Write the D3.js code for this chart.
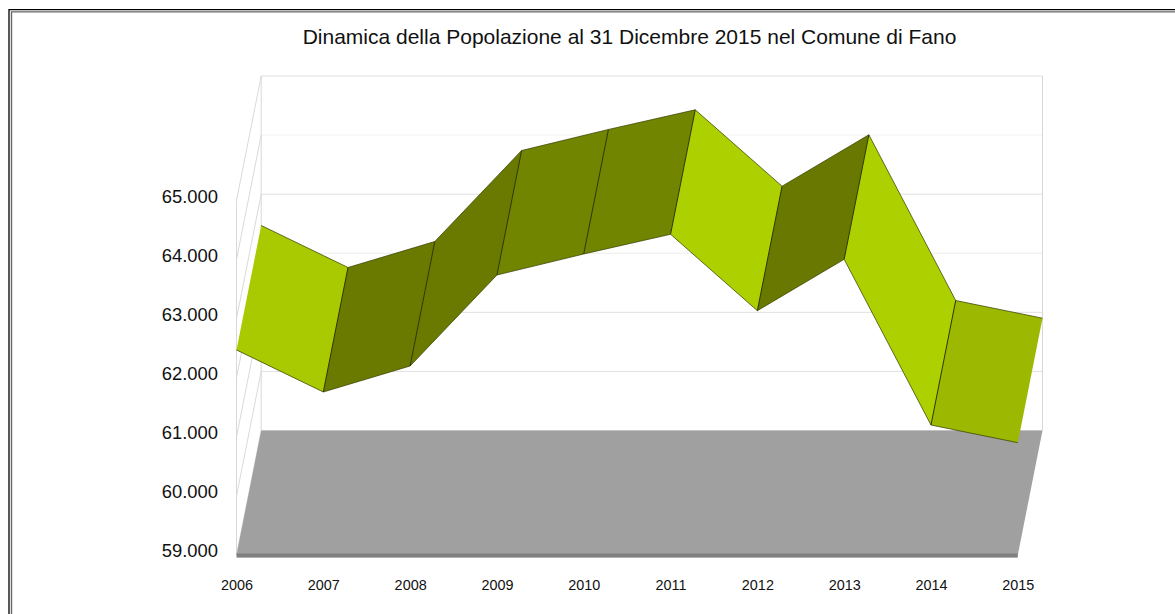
<!DOCTYPE html>
<html><head><meta charset="utf-8">
<script src="https://cdn.jsdelivr.net/npm/d3@7/dist/d3.min.js"></script>
<style>html,body{margin:0;padding:0;background:#fff}svg{display:block}text{font-family:"Liberation Sans",Arial,sans-serif;fill:#111}</style>
</head><body><svg id="c" width="1175" height="614"></svg>
<script>
const years=[2006,2007,2008,2009,2010,2011,2012,2013,2014,2015];
const population=[62470,61759,62199,63739,64095,64428,63135,64005,61200,60901];
const segmentColors=["#a9c900","#6a7a00","#6a7a00","#718500","#718500","#acd000","#697800","#acd000","#9cb800"];
const yTicks=[59000,60000,61000,62000,63000,64000,65000];
const titleText="Dinamica della Popolazione al 31 Dicembre 2015 nel Comune di Fano";
const depthX=24.7, depthY=-124.5;
const svg=d3.select("#c");
const x=d3.scalePoint().domain(years).range([236.5,1017.8]);
const y=d3.scaleLinear().domain([59000,65000]).range([555,200.5]);
const left=x(years[0]), right=x(years[years.length-1]);
const fmt=d3.formatLocale({decimal:",",thousands:".",grouping:[3],currency:["",""]}).format(",d");

// frame
const frame=svg.append("g").attr("fill","none");
frame.append("path").attr("d","M9,614V9.7H1175").attr("stroke","#000").attr("stroke-width",1.3);
frame.append("path").attr("d","M11.5,614V11.9H1175").attr("stroke","#666").attr("stroke-width",1.4);

// title
svg.append("text").attr("x",629.5).attr("y",44).attr("text-anchor","middle").attr("font-size",21).text(titleText);

// walls
const wall=svg.append("g").attr("fill","none");
yTicks.forEach(t=>{
  wall.append("line").attr("x1",left+depthX).attr("x2",right+depthX).attr("y1",y(t)+depthY).attr("y2",y(t)+depthY)
    .attr("stroke",t===64000?"#f2f2f2":t===62000?"#ececec":"#e0e0e0").attr("stroke-width",1);
  wall.append("line").attr("x1",left).attr("x2",left+depthX).attr("y1",y(t)).attr("y2",y(t)+depthY)
    .attr("stroke","#c8c8c8").attr("stroke-width",.7);
});
const vert=wall.append("g").attr("stroke","#d8d8d8").attr("stroke-width",1);
vert.append("line").attr("x1",left).attr("x2",left).attr("y1",y(65000)).attr("y2",y(59000));
vert.append("line").attr("x1",left+depthX).attr("x2",left+depthX).attr("y1",y(65000)+depthY).attr("y2",y(59000)+depthY);
vert.append("line").attr("x1",right+depthX).attr("x2",right+depthX).attr("y1",y(65000)+depthY).attr("y2",y(59000)+depthY);

// floor
const base=y(59000);
svg.append("path").attr("fill","#a0a0a0")
  .attr("d",d3.line()([[left,base],[left+depthX,base+depthY],[right+depthX,base+depthY],[right,base]])+"Z");
svg.append("rect").attr("x",left).attr("y",base-1.5).attr("width",right-left).attr("height",4.1).attr("fill","#808080");

// ribbon
const pts=years.map((yr,i)=>[x(yr),y(population[i])]);
const backPt=p=>[p[0]+depthX,p[1]+depthY];
const ribbon=svg.append("g");
ribbon.selectAll("path.face").data(segmentColors).join("path").attr("class","face")
  .attr("fill",d=>d)
  .attr("d",(d,i)=>d3.line()([pts[i],pts[i+1],backPt(pts[i+1]),backPt(pts[i])])+"Z");
// long edges (thin)
ribbon.selectAll("path.edge").data(segmentColors).join("path").attr("class","edge")
  .attr("fill","none").attr("stroke","#3a4200").attr("stroke-width",.75)
  .attr("d",(d,i)=>d3.line()([pts[i],pts[i+1]])+d3.line()([backPt(pts[i]),backPt(pts[i+1])]));
// folds between segments (dark); the two ends of the ribbon have none
ribbon.selectAll("line.fold").data(pts.slice(1,-1)).join("line").attr("class","fold")
  .attr("x1",d=>d[0]).attr("y1",d=>d[1]).attr("x2",d=>backPt(d)[0]).attr("y2",d=>backPt(d)[1])
  .attr("stroke","#2c3300").attr("stroke-width",1);

// axes
const fontCss='"Liberation Sans",Arial,sans-serif';
const ya=svg.append("g").attr("transform","translate(226,-4.3)")
  .call(d3.axisLeft(y).tickValues(yTicks).tickSize(0).tickPadding(8).tickFormat(fmt));
ya.select(".domain").remove();
ya.selectAll("text").attr("font-size",18.4).attr("font-family",null).style("font-family",fontCss);
const xa=svg.append("g").attr("transform","translate(0,577)")
  .call(d3.axisBottom(x).tickSize(0).tickPadding(3).tickFormat(d3.format("d")));
xa.select(".domain").remove();
xa.selectAll("text").attr("font-size",14.4).attr("font-family",null).style("font-family",fontCss);
</script></body></html>
